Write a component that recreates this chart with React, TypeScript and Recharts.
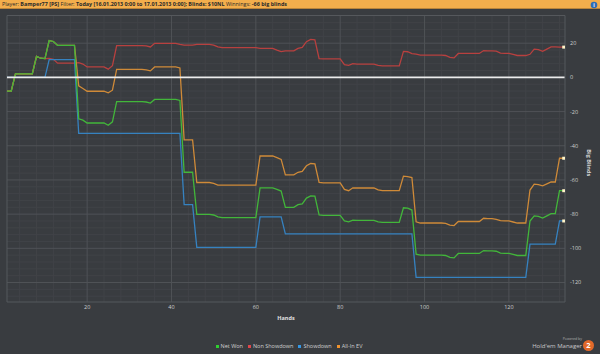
import React from 'react';
import { LineChart, Line, XAxis, YAxis, ReferenceLine, Legend } from 'recharts';

const netWon = [
  -8, -8, 2, 2, 2, 2, 2, 12.3, 11.2, 11,
  21.5, 21, 18.7, 18.7, 18.7, 18.7, 18.7, -24.2, -25, -26.7,
  -26.7, -26.7, -26.7, -26.7, -28, -26, -14.2, -14.2, -14.2, -14.2,
  -14.2, -14.2, -14.2, -14.4, -15, -12.9, -12.9, -12.9, -12.9, -12.9,
  -12.9, -13.5, -55.5, -55.5, -55.5, -80.1, -80.1, -80.1, -80.1, -80.5,
  -81.6, -82, -82, -82, -82, -82, -82, -82, -82, -82,
  -64.6, -64.6, -64.6, -64.6, -65.5, -66.5, -76, -76, -76, -74.5,
  -74, -70.6, -69.3, -69.5, -80.5, -80.7, -80.7, -80.7, -80.7, -80.7,
  -84, -84.5, -83.5, -83.7, -83.7, -83.7, -83.7, -83.7, -84.5, -84.8,
  -84.8, -84.8, -84.8, -84.8, -76.3, -76.5, -77.6, -103.4, -104, -104,
  -104, -104, -104, -104, -104.2, -105.3, -105.6, -103, -103, -103,
  -103, -103, -103, -101.3, -101.5, -101.5, -101.7, -102.8, -103, -103,
  -103.6, -104.2, -104.2, -104.2, -84, -81, -81.3, -82.3, -81, -79.7,
  -79.7, -66.3, -66.3,
];

const nonShowdown = [
  -8, -8, 2, 2, 2, 2, 2, 12.3, 11.2, 11,
  11.1, 10.6, 8.3, 8.3, 8.3, 8.3, 8.3, 8.6, 7.8, 6.1,
  6.1, 6.1, 6.1, 6.1, 4.8, 6.8, 18.6, 18.6, 18.6, 18.6,
  18.6, 18.6, 18.6, 18.4, 17.8, 19.9, 19.9, 19.9, 19.9, 19.9,
  19.9, 19.3, 18.9, 18.9, 18.9, 19.3, 19.3, 19.3, 19.3, 18.9,
  17.8, 17.4, 17.4, 17.4, 17.4, 17.4, 17.4, 17.4, 17.4, 17.4,
  17, 17, 17, 17, 15.9, 15.1, 15.5, 15.5, 15.5, 17,
  17.5, 20.9, 22.2, 22, 11, 10.8, 10.8, 10.8, 10.8, 10.8,
  7.5, 7, 8, 7.8, 7.8, 7.8, 7.8, 7.8, 7, 6.7,
  6.7, 6.7, 6.7, 6.7, 15.2, 15, 13.9, 13.6, 13, 13,
  13, 13, 13, 13, 12.8, 11.7, 11.4, 14, 14, 14,
  14, 14, 14, 15.7, 15.5, 15.5, 15.3, 14.2, 14, 14,
  13.4, 12.8, 12.8, 12.8, 13.5, 16.5, 16.2, 15.2, 16.5, 17.8,
  17.8, 17.7, 17.7,
];

const showdown = [
  0, 0, 0, 0, 0, 0, 0, 0, 0, 0,
  10.4, 10.4, 10.4, 10.4, 10.4, 10.4, 10.4, -32.8, -32.8, -32.8,
  -32.8, -32.8, -32.8, -32.8, -32.8, -32.8, -32.8, -32.8, -32.8, -32.8,
  -32.8, -32.8, -32.8, -32.8, -32.8, -32.8, -32.8, -32.8, -32.8, -32.8,
  -32.8, -32.8, -74.4, -74.4, -74.4, -99.4, -99.4, -99.4, -99.4, -99.4,
  -99.4, -99.4, -99.4, -99.4, -99.4, -99.4, -99.4, -99.4, -99.4, -99.4,
  -81.6, -81.6, -81.6, -81.6, -81.6, -81.6, -91.5, -91.5, -91.5, -91.5,
  -91.5, -91.5, -91.5, -91.5, -91.5, -91.5, -91.5, -91.5, -91.5, -91.5,
  -91.5, -91.5, -91.5, -91.5, -91.5, -91.5, -91.5, -91.5, -91.5, -91.5,
  -91.5, -91.5, -91.5, -91.5, -91.5, -91.5, -91.5, -117, -117, -117,
  -117, -117, -117, -117, -117, -117, -117, -117, -117, -117,
  -117, -117, -117, -117, -117, -117, -117, -117, -117, -117,
  -117, -117, -117, -117, -97.5, -97.5, -97.5, -97.5, -97.5, -97.5,
  -97.5, -84, -84,
];

const allInEV = [
  -8, -8, 2, 2, 2, 2, 2, 12.3, 11.2, 11,
  21.5, 21, 18.7, 18.7, 18.7, 18.7, 18.7, -5, -6.5, -8.1,
  -8.1, -8.1, -8.1, -8.1, -9, -7.5, 4.7, 4.7, 4.7, 4.7,
  4.7, 4.7, 4.7, 4.4, 3.8, 6.1, 6.1, 6.1, 6.1, 6.1,
  6.1, 5.5, -36.5, -36.5, -36.5, -61.5, -61.5, -61.5, -61.5, -62,
  -63, -63, -63, -63, -63, -63, -63, -63, -63, -63,
  -46, -46, -46, -46, -47, -48, -57, -57, -57, -55.5,
  -55, -51.7, -50.4, -50.6, -61.5, -61.7, -61.7, -61.7, -61.7, -61.7,
  -65.5, -66.3, -64.6, -64.7, -64.7, -64.7, -64.7, -64.7, -65.8, -66.3,
  -66.3, -66.3, -66.3, -66.3, -57.8, -58, -58.6, -84.5, -85.2, -85.2,
  -85.2, -85.2, -85.2, -85.2, -85.4, -86.4, -86.7, -84.3, -84.3, -84.3,
  -84.3, -84.3, -84.3, -82.4, -82.6, -82.6, -83, -83.8, -84, -84,
  -84.6, -85.2, -85.2, -85.2, -65.9, -62.5, -62.7, -63.4, -62.3, -61.2,
  -61.2, -47.3, -47.3,
];

const seriesNames = ['Net Won', 'Non Showdown', 'Showdown', 'All-In EV'];
const legendColors = ['#2fd02f', '#e0464a', '#3397e6', '#f0922c'];
const xTicks = [20, 40, 60, 80, 100, 120];
const yTicks = [20, 0, -20, -40, -60, -80, -100, -120];
const xMinor = [4, 8, 12, 16, 24, 28, 32, 36, 44, 48, 52, 56, 64, 68, 72, 76, 84, 88, 92, 96, 104, 108, 112, 116, 124, 128, 132];
const yMinor = [32, 28, 24, 16, 12, 8, 4, -4, -8, -12, -16, -24, -28, -32, -36, -44, -48, -52, -56, -64, -68, -72, -76, -84, -88, -92, -96, -104, -108, -112, -116, -124, -128];

const data = netWon.map((v, i) => ({
  hand: i + 1,
  netWon: v,
  nonShowdown: nonShowdown[i],
  showdown: showdown[i],
  allInEV: allInEV[i],
}));

const FONT = '"Open Sans", "DejaVu Sans", sans-serif';
const lastIdx = data.length - 1;

const endDot = (p: any) =>
  p.index === lastIdx ? (
    <rect key={`d${p.index}`} x={p.cx - 1.5} y={p.cy - 1.5} width={3} height={3} fill="#fff4c8" />
  ) : (
    <g key={`d${p.index}`} />
  );

const LegendContent = () => (
  <div style={{ display: 'flex', justifyContent: 'center', alignItems: 'center', fontFamily: FONT, fontSize: 5.5, color: '#cfcfcf' }}>
    {seriesNames.map((n, i) => (
      <div key={n} style={{ display: 'flex', alignItems: 'center', marginRight: 5 }}>
        <span style={{ width: 3, height: 3, background: legendColors[i], display: 'inline-block', marginRight: 2 }} />
        <span>{n}</span>
      </div>
    ))}
  </div>
);

const YLabel = (props: any) => {
  const vb = props.viewBox || {};
  const x = vb.x + 24;
  const y = vb.y + vb.height / 2 + 4;
  return (
    <text x={x} y={y} transform={`rotate(90, ${x}, ${y})`} textAnchor="middle" dominantBaseline="central" fill="#d8d8d8" fontSize={5.5} fontWeight="bold" fontFamily={FONT}>
      Big Blinds
    </text>
  );
};

export default function App() {
  return (
    <div style={{ position: 'absolute', left: 0, top: 0, width: 600, height: 354, background: '#393c40', overflow: 'hidden' }}>
      <div style={{ position: 'absolute', left: 0, top: 0, width: 600, height: 9, background: '#f3ae4c', borderBottom: '1px solid #b9843b', boxSizing: 'border-box', paddingLeft: 2, fontFamily: FONT, fontSize: 5.4, lineHeight: '8px', color: '#2a2a2a', whiteSpace: 'nowrap' }}>
        Player: <b>Bamper77 [PS]</b> Filter: <b>Today [16.01.2013 0:00 to 17.01.2013 0:00]; Blinds: $10NL</b> Winnings: <b>-66 big blinds</b>
      </div>
      <svg style={{ position: 'absolute', left: 590, top: 1 }} width={8} height={8}>
        <circle cx={4} cy={4} r={3.3} fill="#2d6db5" />
        <text x={4} y={6} textAnchor="middle" fontSize={5} fontWeight="bold" fill="#fff" fontFamily={FONT}>i</text>
      </svg>
      <div style={{ position: 'absolute', left: 0, top: 0 }}>
        <LineChart width={600} height={354} data={data} margin={{ top: 15.5, right: 0, bottom: 30, left: 7 }}>
          {xMinor.map((v) => (
            <ReferenceLine key={`xm${v}`} x={v} stroke="#404347" strokeWidth={1} />
          ))}
          {yMinor.map((v) => (
            <ReferenceLine key={`ym${v}`} y={v} stroke="#404347" strokeWidth={1} />
          ))}
          {xTicks.map((v) => (
            <ReferenceLine key={`xM${v}`} x={v} stroke="#4f5256" strokeWidth={1} />
          ))}
          {yTicks.filter((v) => v !== 0).map((v) => (
            <ReferenceLine key={`yM${v}`} y={v} stroke="#4f5256" strokeWidth={1} />
          ))}
          <ReferenceLine x={1} stroke="#55585c" />
          <ReferenceLine y={36.2} stroke="#55585c" />
          <XAxis
            dataKey="hand"
            type="number"
            domain={[1, 133.3]}
            ticks={xTicks}
            allowDataOverflow
            tickLine={false}
            tickSize={0}
            tickMargin={3}
            height={14}
            axisLine={{ stroke: '#55585c' }}
            tick={{ fill: '#cfcfcf', fontSize: 5.5, fontFamily: FONT }}
            label={{ value: 'Hands', position: 'bottom', offset: 0, fill: '#e0e0e0', fontSize: 5.5, fontWeight: 'bold', fontFamily: FONT }}
          />
          <YAxis
            orientation="right"
            type="number"
            domain={[-131.4, 36.2]}
            ticks={yTicks}
            allowDataOverflow
            width={35}
            tickLine={false}
            tickSize={0}
            tickMargin={5}
            axisLine={{ stroke: '#55585c' }}
            tick={{ fill: '#cfcfcf', fontSize: 5.5, fontFamily: FONT, textAnchor: 'start' }}
            label={<YLabel />}
          />
          <Line dataKey="nonShowdown" name={seriesNames[1]} stroke="#b8403f" strokeWidth={1.3} dot={endDot} activeDot={false} isAnimationActive={false} />
          <Line dataKey="showdown" name={seriesNames[2]} stroke="#3682c0" strokeWidth={1.3} dot={endDot} activeDot={false} isAnimationActive={false} />
          <Line dataKey="allInEV" name={seriesNames[3]} stroke="#cf8a38" strokeWidth={1.3} dot={endDot} activeDot={false} isAnimationActive={false} />
          <Line dataKey="netWon" name={seriesNames[0]} stroke="#42b63a" strokeWidth={1.3} dot={endDot} activeDot={false} isAnimationActive={false} />
          <ReferenceLine y={0} stroke="#ececec" strokeWidth={1.6} />
          <Legend content={<LegendContent />} wrapperStyle={{ left: 0, top: 342, width: 583, height: 8 }} />
        </LineChart>
      </div>
      <div style={{ position: 'absolute', left: 540, top: 337, width: 42, textAlign: 'right', fontFamily: FONT, fontSize: 3.5, lineHeight: '4px', color: '#b0b0b0' }}>Powered by</div>
      <div style={{ position: 'absolute', left: 520, top: 343, width: 62, textAlign: 'right', fontFamily: FONT, fontSize: 6, lineHeight: '7px', color: '#c8c8c8' }}>Hold'em Manager</div>
      <svg style={{ position: 'absolute', left: 582, top: 339 }} width={14} height={14}>
        <circle cx={6.5} cy={6.5} r={5.5} fill="#e2692a" />
        <text x={6.5} y={9.2} textAnchor="middle" fontSize={7.5} fontWeight="bold" fill="#fff" fontFamily={FONT}>2</text>
      </svg>
    </div>
  );
}
